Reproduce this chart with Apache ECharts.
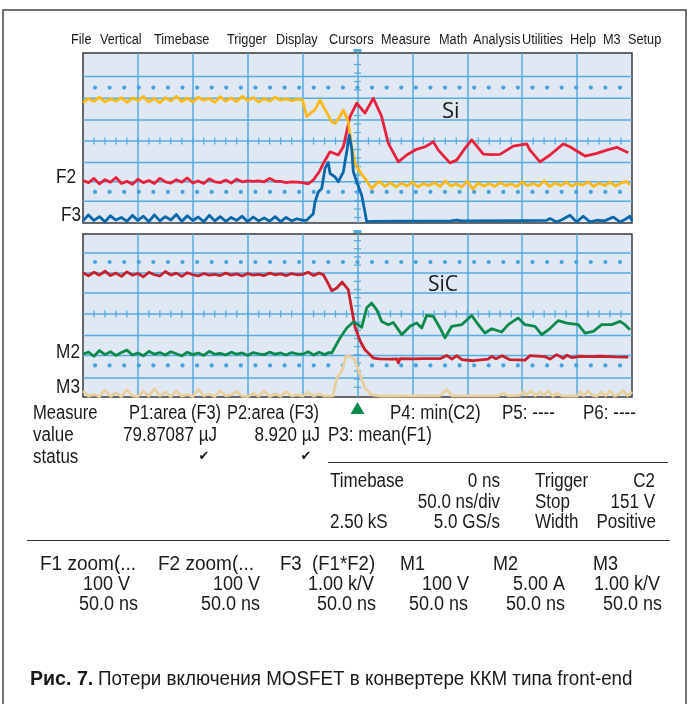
<!DOCTYPE html>
<html><head><meta charset="utf-8">
<script src="https://cdn.jsdelivr.net/npm/echarts@6/dist/echarts.min.js"></script>
<style>html,body{margin:0;padding:0;background:#fff}#c{width:698px;height:704px}</style>
</head><body><div id="c"></div>
<script>
// ---- time axis (ns), 50 ns/div, trigger at 0 ----
const timeMin = -250, timeMax = 250, timeStep = 50;
// shared sample times of the flat (pre-switching) part of every trace
const baseTime = [-250,-245,-240,-235,-230,-225,-220,-215,-210,-205,-200,-195,-190,-185,-180,-175,-170,-165,-160,-155,-150,-145,-140,-135,-130,-125,-120,-115,-110,-105,-100,-95,-90,-85,-80,-75,-70,-65,-60,-55];

// ---- upper panel (Si), values in screen divisions (0 = bottom, 8 = top) ----
const f1Base = [5.66,5.86,5.72,5.92,5.70,5.84,5.74,5.90,5.68,5.88,5.76,5.95,5.70,5.86,5.66,5.90,5.74,5.96,5.72,5.88,5.70,5.92,5.78,5.86,5.68,5.94,5.74,5.88,5.72,5.96,5.76,5.90,5.70,5.86,5.74,5.92,5.78,5.84,5.76,5.82];
const f1Tail = [[-50,5.80],[-46.3,5.01],[-42,5.2],[-38.7,5.32],[-34.2,5.79],[-31.1,5.48],[-27,5.1],[-23.5,4.77],[-20.5,4.69],[-16,5.0],[-12.9,5.32],[-8.4,4.77],[-5.3,3.59],[-2.3,2.80],[2.3,2.41],[6.8,2.10],[12.9,1.62],[17.5,1.86],[20,1.95],[25,1.72],[30,1.90],[35,1.70],[40,1.88],[45,1.74],[50,1.92],[55,1.70],[60,1.86],[65,1.76],[70,1.90],[75,1.72],[80,1.98],[85,1.74],[90,1.84],[95,1.70],[100,1.96],[105,1.60],[110,1.88],[115,1.74],[120,1.86],[125,1.72],[130,1.90],[135,1.76],[140,1.84],[145,1.72],[150,1.92],[155,1.76],[160,1.86],[165,1.74],[170,1.98],[175,1.72],[180,1.88],[185,1.76],[190,1.92],[195,1.74],[200,1.86],[205,1.78],[210,1.94],[215,1.72],[220,1.88],[225,1.76],[230,1.92],[235,1.74],[240,1.88],[245,1.96],[248,1.80]];

const f2Base = [2.00,1.90,2.10,1.84,2.04,1.92,2.14,1.86,1.96,1.82,2.06,1.90,2.00,1.86,2.10,1.94,1.88,2.04,1.92,2.12,1.88,1.98,1.86,2.08,1.94,1.90,2.02,1.88,2.06,1.94,1.98,1.96,1.98,1.94,2.10,1.96,1.96,1.90,1.94,1.92];
const f2Tail = [[-50,1.90],[-45,1.84],[-40.3,2.02],[-35,2.4],[-31.1,2.81],[-25,3.35],[-17.5,3.20],[-12.9,3.59],[-6.8,5.01],[-0.7,5.64],[6.8,5.17],[14.4,5.87],[22,5.01],[28.1,3.75],[37.2,2.88],[44.8,3.20],[53,3.45],[61.5,3.59],[66,3.72],[69,3.83],[73.6,3.43],[84.2,2.83],[90.3,2.96],[97,3.45],[104,3.91],[114.6,3.24],[122,3.22],[129.8,3.23],[141.9,3.62],[154.1,3.72],[157.1,3.43],[166.2,2.88],[175.3,3.20],[187.4,3.72],[193.5,3.59],[207.2,3.15],[217.9,3.28],[227,3.43],[236.1,3.56],[246.6,3.31]];

const f3Base = [0.10,0.38,0.12,0.30,0.06,0.34,0.14,0.26,0.08,0.36,0.12,0.32,0.06,0.38,0.10,0.30,0.14,0.40,0.08,0.34,0.12,0.28,0.06,0.36,0.10,0.30,0.08,0.26,0.12,0.32,0.06,0.28,0.10,0.24,0.08,0.30,0.06,0.26,0.10,0.20];
const f3Tail = [[-50,0.12],[-46.3,0.13],[-43,0.30],[-40.3,0.44],[-38.7,0.99],[-35.7,1.46],[-32.6,1.62],[-29.6,2.57],[-26.6,2.85],[-25,2.33],[-20.5,2.17],[-17.5,1.94],[-12.9,2.41],[-9.8,3.35],[-7.5,4.14],[-5.3,3.51],[-3.8,2.41],[-0.7,1.94],[3.8,1.31],[6.8,0.52],[8.4,0.05],[11.4,0.08],[40,0.09],[85,0.10],[90.3,0.14],[95,0.10],[150,0.11],[172,0.12],[175.3,0.21],[181.4,0.05],[187,0.18],[193.5,0.36],[199.6,0.05],[205.6,0.32],[211.7,0.05],[217.9,0.13],[225,0.10],[233,0.28],[239,0.05],[243,0.15],[248.2,0.32],[250,0.10]];

// ---- lower panel (SiC) ----
const m1Base = [6.10,5.95,6.12,5.98,6.18,5.96,6.08,5.92,6.14,5.98,6.06,5.90,6.12,6.00,5.94,6.16,5.98,6.08,5.92,6.10,6.00,5.94,6.06,5.98,6.02,5.96,6.08,5.98,6.04,5.94,6.06,5.98,6.02,5.96,6.08,6.00,6.04,5.96,6.06,6.00];
const m1Tail = [[-50,6.02],[-45,6.12],[-40,5.96],[-35,6.08],[-31.1,6.00],[-27,5.6],[-23.5,5.22],[-18.9,5.35],[-14,5.64],[-12.9,5.67],[-8.4,5.27],[-5.3,4.33],[-2.3,3.45],[2.3,2.76],[6.8,2.32],[14.4,1.91],[20,1.87],[30,1.86],[36,1.87],[37.2,1.67],[38.7,1.88],[50,1.87],[60,1.88],[75.1,1.88],[81.2,2.04],[86,1.86],[90.3,2.03],[95.2,1.83],[105.5,1.78],[118.9,1.86],[122.2,1.99],[126.1,1.88],[131.6,2.03],[138.9,1.83],[152.6,1.81],[157.1,2.03],[170.8,1.98],[175.3,1.86],[181.4,2.08],[187.2,1.90],[190.8,2.05],[195.4,1.93],[202.6,2.00],[211.7,1.98],[220.8,2.00],[235,1.97],[246.6,1.96]];

const m2Base = [2.10,2.20,2.00,2.28,2.08,2.22,2.04,2.18,2.30,2.06,2.16,2.02,2.24,2.10,2.18,2.06,2.22,2.12,2.02,2.20,2.08,2.16,2.04,2.24,2.10,2.14,2.06,2.20,2.10,2.16,2.04,2.18,2.12,2.08,2.20,2.10,2.16,2.06,2.18,2.12];
const m2Tail = [[-50,2.10],[-45,2.22],[-40,2.06],[-35,2.20],[-30,2.08],[-26,2.18],[-23.5,2.16],[-15.9,2.90],[-9.8,3.39],[-3.8,3.68],[0.7,3.55],[3.8,3.42],[8.4,4.38],[12.9,4.61],[17.5,4.28],[22,3.71],[28.1,3.55],[32.6,3.66],[40.3,3.06],[47.8,3.47],[53.9,3.63],[58.5,3.39],[63,4.00],[69,3.96],[75.1,3.39],[79.7,2.90],[85.8,3.47],[94.9,3.55],[104,4.00],[110,3.55],[116.1,3.14],[122.2,3.35],[131.3,3.19],[137.3,3.55],[146.4,3.88],[152.6,3.55],[161.7,3.47],[167.8,3.06],[175.3,3.36],[182.9,3.75],[190.5,3.63],[201.1,3.55],[207.2,3.14],[214.8,3.22],[222.4,3.55],[231.5,3.55],[239.1,3.71],[243.6,3.55],[248.2,3.30]];

const m3Base = [0.30,0.04,0.12,0.02,0.34,0.04,0.20,0.02,0.36,0.06,0.02,0.28,0.04,0.40,0.06,0.24,0.02,0.30,0.04,0.12,0.02,0.38,0.06,0.14,0.02,0.30,0.06,0.10,0.28,0.04,0.02,0.18,0.04,0.30,0.02,0.14,0.04,0.26,0.06,0.10];
const m3Tail = [[-50,0.04],[-45,0.22],[-40,0.04],[-35,0.16],[-30,0.04],[-22.3,0.06],[-18.9,0.93],[-14.4,1.26],[-10.5,1.99],[-6.8,1.99],[-2.3,1.83],[2.3,1.09],[6.8,0.44],[12.9,0.11],[20,0.05],[75,0.06],[81.2,0.36],[86,0.06],[128,0.06],[132.8,0.20],[137,0.06],[148,0.08],[151,0.27],[154,0.10],[158,0.30],[162,0.06],[166,0.24],[170,0.08],[174,0.30],[178,0.04],[182,0.20],[186,0.06],[190,0.04],[200,0.04],[203,0.26],[206,0.06],[210,0.30],[214,0.08],[218,0.04],[222,0.24],[226,0.06],[230,0.30],[234,0.04],[238,0.14],[242,0.32],[246,0.06],[250,0.24]];

// graticule rows (divisions) as they appear on the screenshot
const upperRows = [6.895,5.875,4.850,3.858,2.852,1.936,1.025];
const upperCenter = 3.858;
const upperDotRows = [6.375,1.464];
const lowerRows = [7.067,6.086,5.104,4.074,3.023,2.042,0.933];
const lowerCenter = 4.074;
const lowerDotRows = [6.626,1.551];
const dotStepNs = 13.28;
const centerTickNs = 10;
const centerTickDiv = 0.4;

const menuItems = [['File',71],['Vertical',100],['Timebase',154],['Trigger',227],['Display',276],['Cursors',329],['Measure',381],['Math',439],['Analysis',473],['Utilities',522],['Help',570],['M3',603],['Setup',628]];

const FONT = '"Liberation Sans",Arial,sans-serif';
const GRIDC = '#56abe0';

function join(base, tail){ return baseTime.map((t,i)=>[t, base[i]]).concat(tail); }

function decor(gi, rows, center, dotRows, trigger){
  return {
    type:'custom', xAxisIndex:gi, yAxisIndex:gi, silent:true, z:1, clip:false,
    data:[[0,0]],
    renderItem(params, api){
      const ch = [];
      const xl = api.coord([timeMin,0])[0], xr = api.coord([timeMax,0])[0];
      const yTop = api.coord([0,8])[1], yBot = api.coord([0,0])[1];
      const xc = api.coord([0,0])[0];
      rows.forEach(v=>{ const y = api.coord([0,v])[1]; ch.push({type:'line',shape:{x1:xl,y1:y,x2:xr,y2:y},style:{stroke:GRIDC,lineWidth:1.5}}); });
      dotRows.forEach(v=>{ for(let k=-18;k<=18;k++){ const p=api.coord([k*dotStepNs,v]); ch.push({type:'circle',shape:{cx:p[0],cy:p[1],r:2.1},style:{fill:'#46a2dc'}}); } });
      const yc = api.coord([0,center])[1];
      for(let t=timeMin+centerTickNs;t<timeMax;t+=centerTickNs){ const x=api.coord([t,0])[0]; ch.push({type:'line',shape:{x1:x,y1:yc-3.5,x2:x,y2:yc+3.5},style:{stroke:GRIDC,lineWidth:1.3}}); }
      for(let k=-12;k<=12;k++){ const v=center+k*centerTickDiv; if(v<0.2||v>7.8) continue; const y=api.coord([0,v])[1]; ch.push({type:'line',shape:{x1:xc-3.5,y1:y,x2:xc+3.5,y2:y},style:{stroke:GRIDC,lineWidth:1.3}}); }
      ch.push({type:'line',shape:{x1:xc-4,y1:yTop-2.5,x2:xc+4,y2:yTop-2.5},style:{stroke:GRIDC,lineWidth:3}});
      if(trigger){ ch.push({type:'polygon',shape:{points:[[xc-7,yBot+17],[xc,yBot+5],[xc+7,yBot+17]]},style:{fill:'#0b8a4c'}}); }
      return {type:'group',children:ch};
    }
  };
}

function trace(gi, data, color, z){
  return {type:'line', xAxisIndex:gi, yAxisIndex:gi, data, symbol:'none', z, silent:true,
    lineStyle:{color, width:2.8, join:'round'}};
}

// text element; sx = horizontal condensing around the anchor point
function T(text, x, y, size, align, sx, font){
  return {type:'text', x, y, scaleX:sx||0.82, silent:true,
    style:{text, font:font||(size+'px '+FONT), fill:'#1a1a1a', align:align||'left', verticalAlign:'middle'}};
}

const M = 20, MS = 0.85;   // measure block
const B = 20, BS = 0.9;    // bottom block
const CK = '13px "DejaVu Sans",sans-serif';
const graphics = [
  {type:'rect', shape:{x:3,y:10,width:683,height:720}, style:{fill:'none',stroke:'#444',lineWidth:1.5}, silent:true},
  {type:'line', shape:{x1:328,y1:462.5,x2:668,y2:462.5}, style:{stroke:'#333',lineWidth:1.2}, silent:true},
  {type:'line', shape:{x1:27,y1:540.5,x2:670,y2:540.5}, style:{stroke:'#333',lineWidth:1.2}, silent:true},
  T('F2',76,177,21,'right',0.82), T('F3',81,215,21,'right',0.82),
  T('M2',80,352,21,'right',0.82), T('M3',80,387,21,'right',0.82),
  T('Si',442,112,22,'left',1,'22px "Open Sans",sans-serif'),
  T('SiC',428,285,21,'left',1,'21px "Open Sans",sans-serif'),
  T('Measure',33,413,M,'left',0.83), T('P1:area (F3)',221,413,M,'right',0.82), T('P2:area (F3)',319,413,M,'right',0.82),
  T('P4: min(C2)',390,413,M,'left',MS), T('P5: ----',502,413,M,'left',MS), T('P6: ----',583,413,M,'left',MS),
  T('value',33,435,M,'left',MS), T('79.87087 µJ',217,435,M,'right',MS), T('8.920 µJ',320,435,M,'right',MS), T('P3: mean(F1)',328,435,M,'left',MS),
  T('status',33,457,M,'left',MS), T('✔',204,457,13,'center',1,CK), T('✔',306,457,13,'center',1,CK),
  T('Timebase',330,481,M,'left',MS), T('0 ns',500,481,M,'right',MS), T('Trigger',535,481,M,'left',MS), T('C2',655,481,M,'right',MS),
  T('50.0 ns/div',500,502,M,'right',MS), T('Stop',535,502,M,'left',MS), T('151 V',655,502,M,'right',MS),
  T('2.50 kS',330,522,M,'left',MS), T('5.0 GS/s',500,522,M,'right',MS), T('Width',535,522,M,'left',MS), T('Positive',656,522,M,'right',MS),
  T('F1 zoom(...',40,564,B,'left',0.95), T('100 V',130,584,B,'right',BS), T('50.0 ns',138,604,B,'right',BS),
  T('F2 zoom(...',158,564,B,'left',0.95), T('100 V',260,584,B,'right',BS), T('50.0 ns',260,604,B,'right',BS),
  T('F3  (F1*F2)',280,564,B,'left',0.93), T('1.00 k/V',374,584,B,'right',BS), T('50.0 ns',376,604,B,'right',BS),
  T('M1',400,564,B,'left',BS), T('100 V',469,584,B,'right',BS), T('50.0 ns',468,604,B,'right',BS),
  T('M2',493,564,B,'left',BS), T('5.00 A',565,584,B,'right',BS), T('50.0 ns',565,604,B,'right',BS),
  T('M3',593,564,B,'left',BS), T('1.00 k/V',660,584,B,'right',BS), T('50.0 ns',662,604,B,'right',BS),
  T('Рис. 7.',30,679,20,'left',0.98,'bold 20px '+FONT),
  T('Потери включения MOSFET в конвертере ККМ типа front-end',98,679,20,'left',0.94)
].concat(menuItems.map(m=>T(m[0],m[1],40,15.5,'left',0.82)));

const axisX = gi => ({gridIndex:gi, type:'value', min:timeMin, max:timeMax, interval:timeStep,
  axisLine:{show:false}, axisTick:{show:false}, axisLabel:{show:false},
  splitLine:{show:true, showMinLine:false, showMaxLine:false, lineStyle:{color:GRIDC,width:1.5}}});
const axisY = gi => ({gridIndex:gi, type:'value', min:0, max:8, interval:1,
  axisLine:{show:false}, axisTick:{show:false}, axisLabel:{show:false}, splitLine:{show:false}});

const chart = echarts.init(document.getElementById('c'));
chart.setOption({
  animation:false,
  backgroundColor:'#ffffff',
  grid:[
    {left:83, top:53, width:549, height:170, show:true, backgroundColor:'#dfe8f3', borderColor:'#3a3a3a', borderWidth:1.5},
    {left:83, top:234, width:549, height:163, show:true, backgroundColor:'#dfe8f3', borderColor:'#3a3a3a', borderWidth:1.5}
  ],
  xAxis:[axisX(0), axisX(1)],
  yAxis:[axisY(0), axisY(1)],
  graphic:graphics,
  series:[
    decor(0, upperRows, upperCenter, upperDotRows, false),
    decor(1, lowerRows, lowerCenter, lowerDotRows, true),
    trace(0, join(f2Base,f2Tail), '#e8203c', 3),
    trace(0, join(f1Base,f1Tail), '#fcb814', 4),
    trace(0, join(f3Base,f3Tail), '#0a67aa', 5),
    trace(1, join(m1Base,m1Tail), '#c8202c', 3),
    trace(1, join(m2Base,m2Tail), '#0b8a4c', 4),
    trace(1, join(m3Base,m3Tail), '#e8cf9c', 2)
  ]
});
</script></body></html>
